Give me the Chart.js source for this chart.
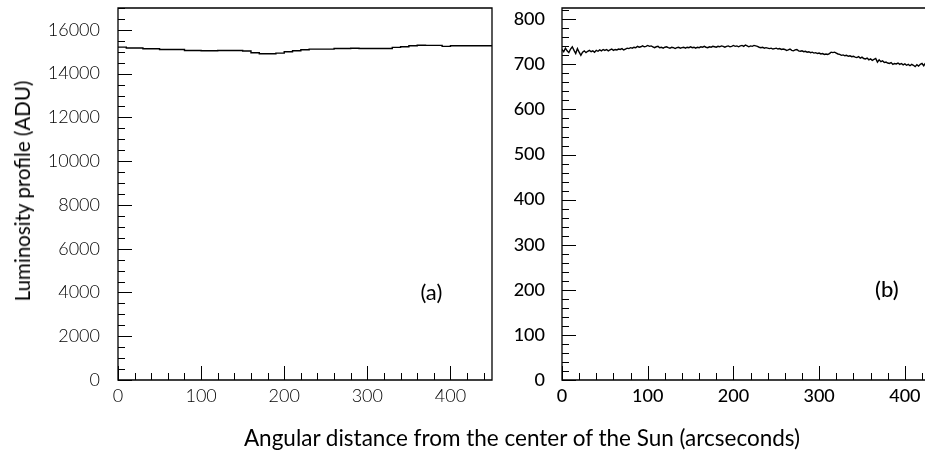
<!DOCTYPE html>
<html>
<head>
<meta charset="utf-8">
<script src="https://cdn.jsdelivr.net/npm/chart.js@4.4.1/dist/chart.umd.min.js"></script>
<style>
  html, body { margin:0; padding:0; background:#fff; }
  body { width:925px; height:454px; position:relative; overflow:hidden; font-family: Lato, "DejaVu Sans", sans-serif; }
  #c1 { position:absolute; left:0; top:0; }
  #c2 { position:absolute; left:500px; top:0; }
  .ytitle { position:absolute; left:22px; top:191px; transform: translate(-50%,-50%) rotate(-90deg); white-space:nowrap; font-size:20.5px; font-weight:400; color:#000; }
  .xtitle { position:absolute; left:522px; top:437px; transform: translate(-50%,-50%); white-space:nowrap; font-size:22.5px; font-weight:400; color:#000; }
</style>
</head>
<body>
<canvas id="c1" width="500" height="454"></canvas>
<canvas id="c2" width="428" height="454"></canvas>
<div class="ytitle">Luminosity profile (ADU)</div>
<div class="xtitle">Angular distance from the center of the Sun (arcseconds)</div>
<script>
// ---------------- data ----------------
const xTickLabels = [0, 100, 200, 300, 400];
const leftYTickLabels = [0, 2000, 4000, 6000, 8000, 10000, 12000, 14000, 16000];
const rightYTickLabels = [0, 100, 200, 300, 400, 500, 600, 700, 800];

// panel (a): histogram, 10-arcsec bins from 0 to 450
const leftBinWidth = 10;
const leftValues = [
  15210, 15170, 15170, 15136, 15136, 15105, 15105, 15105, 15060, 15060,
  15045, 15045, 15060, 15060, 15060, 15035, 14955, 14910, 14910, 14940,
  15000, 15045, 15095, 15120, 15120, 15120, 15150, 15150, 15160, 15150,
  15150, 15150, 15150, 15200, 15230, 15275, 15300, 15290, 15290, 15245,
  15275, 15275, 15275, 15275, 15275
];

// panel (b): profile sampled every 2 arcsec from 0 to 424
const rightStep = 2;
const rightValues = [
  733, 728, 736, 730, 726, 734, 739, 731, 724, 735,
  727, 720, 727, 730, 726, 729, 731, 728, 730, 727,
  731, 729, 732, 730, 733, 731, 733, 730, 732, 734,
  731, 733, 732, 734, 733, 735, 732, 734, 736, 735,
  737, 736, 738, 737, 740, 738, 739, 741, 739, 740,
  742, 740, 741, 739, 737, 739, 740, 737, 738, 736,
  738, 739, 737, 736, 738, 737, 735, 737, 738, 736,
  737, 738, 736, 738, 737, 739, 737, 738, 736, 738,
  737, 739, 738, 740, 738, 737, 739, 738, 740, 739,
  738, 740, 739, 741, 740, 738, 740, 741, 739, 740,
  742, 740, 741, 739, 741, 742, 740, 743, 741, 739,
  741, 740, 742, 741, 740, 738, 737, 738, 736, 737,
  736, 735, 736, 734, 735, 736, 734, 735, 733, 734,
  733, 731, 732, 734, 731, 730, 732, 733, 730, 729,
  730, 728, 729, 727, 728, 726, 727, 725, 726, 724,
  725, 723, 724, 722, 723, 722, 724, 727, 726, 727,
  725, 723, 722, 720, 721, 719, 720, 718, 719, 717,
  718, 716, 715, 717, 714, 716, 713, 712, 714, 710,
  712, 709, 711, 713, 705, 710, 706, 708, 704, 705,
  703, 702, 704, 700, 702, 701, 703, 700, 702, 699,
  701, 698, 700, 697, 700, 698, 695, 699, 696, 700,
  702, 697, 703
];

const leftXMax = 450, leftYMax = 17000;
const rightXMax = 427, rightYMax = 825;

// ---------------- build points ----------------
const leftPoints = leftValues.map((v, i) => ({ x: i * leftBinWidth, y: v }));
leftPoints.push({ x: leftValues.length * leftBinWidth, y: leftValues[leftValues.length - 1] });
const rightPoints = rightValues.map((v, i) => ({ x: i * rightStep, y: v }));

// ---------------- ROOT-like frame / ticks plugin ----------------
const rootFrame = {
  id: 'rootFrame',
  afterDatasetsDraw(chart) {
    const o = chart.options.plugins.rootFrame;
    const { ctx, chartArea: { left, right, top, bottom }, scales: { x, y } } = chart;
    ctx.save();
    ctx.strokeStyle = '#000';
    ctx.lineWidth = 1.3;
    ctx.beginPath();
    ctx.rect(left, top, right - left, bottom - top);
    ctx.stroke();
    ctx.lineWidth = 1;
    const near = (v, m) => Math.abs(v / m - Math.round(v / m)) < 1e-6;
    ctx.beginPath();
    for (let v = x.min; v <= x.max + 1e-9; v += o.xMinor) {
      const px = Math.round(x.getPixelForValue(v)) + 0.5;
      const len = near(v, o.xMajor) ? 14 : 7;
      ctx.moveTo(px, bottom); ctx.lineTo(px, bottom - len);
    }
    for (let v = y.min; v <= y.max + 1e-9; v += o.yMinor) {
      const py = Math.round(y.getPixelForValue(v)) + 0.5;
      const len = near(v, o.yMajor) ? 14 : 7;
      ctx.moveTo(left, py); ctx.lineTo(left + len, py);
    }
    ctx.stroke();
    ctx.fillStyle = '#000';
    ctx.font = o.labelFont;
    ctx.textAlign = 'center';
    ctx.textBaseline = 'middle';
    ctx.fillText(o.label, x.getPixelForValue(o.labelX), y.getPixelForValue(o.labelY));
    ctx.restore();
  }
};

function zeroPad(s) { s.paddingTop = 0; s.paddingBottom = 0; s.paddingLeft = 0; s.paddingRight = 0; }

function makeChart(id, points, stepped, xMax, yMax, yTicks, opts) {
  return new Chart(document.getElementById(id), {
    type: 'line',
    data: { datasets: [{ data: points, borderColor: '#000', borderWidth: 1.4, pointRadius: 0, stepped: stepped, fill: false, tension: 0 }] },
    options: {
      responsive: false, animation: false, devicePixelRatio: 1,
      layout: { padding: opts.padding },
      plugins: {
        legend: { display: false }, tooltip: { enabled: false },
        rootFrame: opts.frame
      },
      scales: {
        x: {
          type: 'linear', min: 0, max: xMax,
          grid: { display: false, drawTicks: false }, border: { display: false },
          afterBuildTicks: s => { s.ticks = xTickLabels.map(v => ({ value: v })); },
          afterFit: s => { s.height = opts.xAxisHeight; zeroPad(s); },
          ticks: { color: '#000', font: opts.tickFont, padding: 5, maxRotation: 0, autoSkip: false, callback: v => String(v) }
        },
        y: {
          type: 'linear', min: 0, max: yMax,
          grid: { display: false, drawTicks: false }, border: { display: false },
          afterBuildTicks: s => { s.ticks = yTicks.map(v => ({ value: v })); },
          afterFit: s => { s.width = opts.yAxisWidth; zeroPad(s); },
          ticks: { color: '#000', font: opts.tickFont, padding: opts.yPad, autoSkip: false, callback: v => String(v) }
        }
      }
    },
    plugins: [rootFrame]
  });
}

makeChart('c1', leftPoints, true, leftXMax, leftYMax, leftYTickLabels, {
  padding: { left: 0, right: 8, top: 8, bottom: 0 },
  xAxisHeight: 74, yAxisWidth: 118, yPad: 18,
  tickFont: { family: 'Lato', size: 18, weight: '300' },
  frame: { xMinor: 20, xMajor: 100, yMinor: 500, yMajor: 2000, label: '(a)', labelX: 377, labelY: 4000, labelFont: '400 22px Lato' }
});
makeChart('c2', rightPoints, false, rightXMax, rightYMax, rightYTickLabels, {
  padding: { left: 0, right: 0, top: 8, bottom: 0 },
  xAxisHeight: 74, yAxisWidth: 62, yPad: 17,
  tickFont: { family: 'Lato', size: 18, weight: '500' },
  frame: { xMinor: 20, xMajor: 100, yMinor: 20, yMajor: 100, label: '(b)', labelX: 379, labelY: 200, labelFont: '500 22px Lato' }
});
</script>
</body>
</html>
